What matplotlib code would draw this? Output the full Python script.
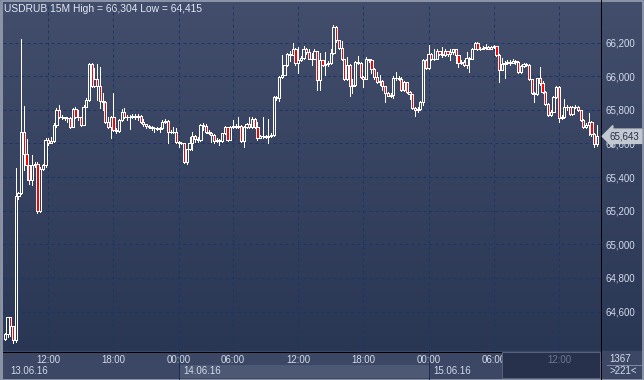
import numpy as np
import matplotlib
matplotlib.use("Agg")
import matplotlib.pyplot as plt
from matplotlib.patches import Rectangle
from matplotlib.colors import LinearSegmentedColormap

TITLE = "USDRUB 15M High = 66,304 Low = 64,415"

# 15 minute candles, open of each bar = previous close
first_open = 64.435
close = [
    64.468, 64.565, 64.515, 64.432, 65.285, 65.305, 65.670, 65.540, 65.470, 65.380,
    65.470, 65.480, 65.200, 65.450, 65.470, 65.620, 65.600, 65.615, 65.710, 65.800,
    65.760, 65.755, 65.750, 65.752, 65.700, 65.805, 65.760, 65.758, 65.710, 65.820,
    65.860, 66.075, 65.940, 65.985,
    65.940, 65.850, 65.845, 65.730, 65.700, 65.755, 65.680, 65.675, 65.740, 65.790,
    65.755, 65.760, 65.758, 65.765, 65.760, 65.765, 65.725, 65.715, 65.705, 65.700,
    65.690, 65.692, 65.688, 65.690, 65.730, 65.735, 65.670, 65.668, 65.670, 65.610,
    65.605, 65.602, 65.488, 65.565, 65.600, 65.645, 65.625, 65.620, 65.710, 65.705,
    65.670, 65.665, 65.650, 65.617, 65.620, 65.615, 65.660, 65.696, 65.622, 65.700,
    65.702, 65.696, 65.705, 65.615, 65.700, 65.715, 65.700, 65.745, 65.700, 65.635,
    65.643, 65.645, 65.640, 65.642, 65.650, 65.875,
    65.870, 65.995, 66.010, 66.065, 66.135, 66.125, 66.165, 66.077, 66.095, 66.110,
    66.165, 66.145, 66.105, 66.100, 66.150, 65.978, 66.095, 66.070, 66.075, 66.080,
    66.140, 66.295, 66.215, 66.167, 66.100, 65.982, 66.070, 65.943, 65.950, 66.085,
    66.080, 65.998, 65.985, 66.100, 66.095, 66.045, 65.993, 65.968, 65.970, 65.945,
    65.900, 65.885, 65.888, 65.990, 65.988, 65.985, 65.920,
    65.965, 65.905, 65.895, 65.810, 65.802, 65.805, 65.845, 66.095, 66.050, 66.135,
    66.100, 66.105, 66.150, 66.135, 66.125, 66.150, 66.130, 66.145, 66.160, 66.125,
    66.080, 66.085, 66.070, 66.107, 66.100, 66.165, 66.198, 66.160, 66.165, 66.170,
    66.172, 66.165, 66.172, 66.178, 66.127, 66.040, 66.075, 66.080, 66.085, 66.080,
    66.090, 66.085, 66.027, 66.060, 66.075, 66.070, 65.982, 65.903, 65.895, 65.988,
    65.960, 65.905, 65.835, 65.770, 65.790, 65.875, 65.935, 65.750, 65.755, 65.820,
    65.818, 65.775, 65.815, 65.820, 65.800, 65.742, 65.700, 65.710, 65.730, 65.655,
    65.595, 65.643,
]
high = [
    64.472, 64.570, 64.570, 64.515, 65.455, 65.310, 66.220, 65.825, 65.625, 65.470,
    65.530, 65.490, 65.490, 65.460, 65.480, 65.630, 65.630, 65.640, 65.720, 65.810,
    65.830, 65.770, 65.760, 65.760, 65.755, 65.810, 65.815, 65.800, 65.760, 65.830,
    65.870, 66.080, 66.080, 66.050,
    66.073, 66.055, 65.900, 65.850, 65.760, 65.765, 65.900, 65.690, 65.745, 65.805,
    65.810, 65.770, 65.770, 65.775, 65.775, 65.775, 65.770, 65.745, 65.715, 65.712,
    65.705, 65.700, 65.700, 65.700, 65.740, 65.745, 65.740, 65.680, 65.700, 65.690,
    65.615, 65.610, 65.605, 65.570, 65.640, 65.670, 65.650, 65.640, 65.715, 65.720,
    65.715, 65.680, 65.670, 65.655, 65.630, 65.625, 65.665, 65.705, 65.700, 65.705,
    65.740, 65.715, 65.758, 65.710, 65.705, 65.720, 65.760, 65.760, 65.750, 65.730,
    65.650, 65.760, 65.650, 65.745, 65.660, 65.880,
    65.880, 66.000, 66.125, 66.070, 66.140, 66.150, 66.200, 66.170, 66.175, 66.120,
    66.180, 66.170, 66.160, 66.140, 66.160, 66.150, 66.140, 66.095, 66.145, 66.090,
    66.160, 66.304, 66.300, 66.215, 66.210, 66.100, 66.117, 66.075, 65.985, 66.090,
    66.120, 66.085, 66.000, 66.115, 66.105, 66.100, 66.050, 66.027, 66.008, 65.975,
    65.940, 65.905, 65.900, 66.000, 66.027, 66.000, 65.995,
    65.970, 65.965, 65.910, 65.895, 65.815, 65.820, 65.850, 66.100, 66.105, 66.185,
    66.140, 66.160, 66.165, 66.150, 66.176, 66.165, 66.150, 66.160, 66.165, 66.165,
    66.125, 66.095, 66.095, 66.146, 66.115, 66.170, 66.205, 66.205, 66.175, 66.180,
    66.190, 66.180, 66.180, 66.185, 66.180, 66.130, 66.107, 66.090, 66.095, 66.095,
    66.100, 66.095, 66.090, 66.070, 66.080, 66.080, 66.075, 65.985, 65.905, 65.990,
    66.057, 65.970, 65.910, 65.840, 65.800, 65.880, 65.940, 65.940, 65.770, 65.865,
    65.830, 65.825, 65.825, 65.830, 65.825, 65.800, 65.745, 65.720, 65.783, 65.735,
    65.660, 65.710,
]
low = [
    64.430, 64.450, 64.455, 64.415, 64.420, 65.270, 65.300, 65.440, 65.380, 65.360,
    65.350, 65.460, 65.185, 65.195, 65.440, 65.460, 65.590, 65.600, 65.610, 65.700,
    65.750, 65.745, 65.740, 65.730, 65.695, 65.700, 65.750, 65.740, 65.705, 65.708,
    65.820, 65.855, 65.935, 65.935,
    65.859, 65.810, 65.800, 65.720, 65.690, 65.635, 65.675, 65.660, 65.670, 65.735,
    65.750, 65.740, 65.685, 65.750, 65.745, 65.740, 65.720, 65.705, 65.695, 65.690,
    65.680, 65.670, 65.680, 65.670, 65.685, 65.720, 65.605, 65.660, 65.660, 65.605,
    65.580, 65.595, 65.482, 65.480, 65.560, 65.560, 65.610, 65.610, 65.615, 65.680,
    65.660, 65.655, 65.610, 65.600, 65.610, 65.590, 65.610, 65.655, 65.615, 65.620,
    65.695, 65.690, 65.695, 65.610, 65.581, 65.695, 65.690, 65.690, 65.695, 65.621,
    65.635, 65.635, 65.630, 65.601, 65.640, 65.645,
    65.860, 65.855, 65.990, 66.005, 66.060, 66.090, 66.130, 66.070, 66.020, 66.090,
    66.105, 66.135, 66.100, 66.065, 66.100, 65.918, 65.920, 66.060, 66.010, 66.060,
    66.075, 66.135, 66.205, 66.160, 66.095, 65.975, 65.975, 65.885, 65.899, 65.945,
    66.075, 65.990, 65.938, 65.985, 66.085, 66.018, 65.985, 65.960, 65.948, 65.918,
    65.849, 65.880, 65.875, 65.869, 65.980, 65.975, 65.910,
    65.915, 65.900, 65.865, 65.805, 65.765, 65.790, 65.800, 65.830, 66.045, 66.045,
    66.095, 66.095, 66.100, 66.125, 66.115, 66.120, 66.120, 66.097, 66.130, 66.077,
    66.057, 66.075, 66.060, 66.048, 66.027, 66.100, 66.160, 66.155, 66.155, 66.160,
    66.165, 66.160, 66.165, 66.170, 66.120, 65.965, 66.035, 65.990, 66.075, 66.070,
    66.080, 66.075, 66.020, 66.020, 66.055, 66.060, 65.975, 65.895, 65.849, 65.890,
    65.950, 65.900, 65.830, 65.765, 65.765, 65.800, 65.870, 65.730, 65.745, 65.750,
    65.800, 65.770, 65.770, 65.810, 65.795, 65.735, 65.695, 65.690, 65.650, 65.645,
    65.580, 65.585,
]

price_levels = [64.6, 64.8, 65.0, 65.2, 65.4, 65.6, 65.8, 66.0, 66.2]
tick_bars = [16, 40, 64, 84, 108, 132, 156, 180, 204]
tick_labels = ["12:00", "18:00", "00:00", "06:00", "12:00", "18:00", "00:00", "06:00", "12:00"]
day_bars = [0, 64, 156]
day_labels = ["13.06.16", "14.06.16", "15.06.16"]
bars_total = "1367"
bars_shown = ">221<"

FONT = "Liberation Sans"
TXT = "#d3dbea"
W, H = 644, 380
PX = 0.72  # one pixel in points

fig = plt.figure(figsize=(W / 100, H / 100), dpi=100)

# background layer in pixel coordinates
bg = fig.add_axes([0, 0, 1, 1])
grad = np.linspace(0, 1, 256).reshape(-1, 1)
cmap = LinearSegmentedColormap.from_list("panel", ["#424e6c", "#2a3754"])
bg.imshow(grad, cmap=cmap, extent=[0, W, 351, 0], aspect="auto")
bg.add_patch(Rectangle((0, 351), W, H - 351, color="#3b4764"))
bg.set_xlim(0, W)
bg.set_ylim(H, 0)
bg.axis("off")
bg.plot([601.5, 601.5], [0, H], color="black", lw=PX)
bg.plot([3, 601.5], [351.5, 351.5], color="black", lw=PX)
bg.plot([607, 641], [365, 365], color="#7d889e", lw=PX)
bg.add_patch(Rectangle((0.5, 0.5), W - 1, H - 1, fill=False, ec="#a3abb9", lw=1.5 * PX))
bg.add_patch(Rectangle((1.2, 1.2), 1.8, H - 2.4, color="#8a93a6", lw=0))
bg.text(4, 8.5, TITLE, family=FONT, size=7.4, color="#e2e8f3", ha="left", va="center")
bg.text(620, 359.5, bars_total, family=FONT, size=7, color=TXT, ha="center", va="center")
bg.text(623, 371.5, bars_shown, family=FONT, size=7, color=TXT, ha="center", va="center")

# price axes: bar i sits at x = 4.84 + 2.716 * i pixels
ax = fig.add_axes([3 / W, 29 / H, 598 / W, 348 / H])
ax.patch.set_alpha(0)
ax.set_xlim(-0.677, 219.5)
ax.set_ylim(64.365, 66.436)
for s in ax.spines.values():
    s.set_visible(False)

ax.set_yticks(price_levels)
ax.set_yticklabels([f"{v:.3f}".replace(".", ",") for v in price_levels])
ax.yaxis.tick_right()
ax.tick_params(axis="y", length=0, pad=3.6, labelsize=7, labelcolor=TXT)
ax.set_xticks(tick_bars)
ax.set_xticklabels(tick_labels)
ax.tick_params(axis="x", length=0, pad=2.8, labelsize=6.9, labelcolor=TXT)
for lab in ax.get_xticklabels() + ax.get_yticklabels():
    lab.set_family(FONT)
ax.grid(True, color="#1b3666", lw=PX, ls=(0, (3, 3)))

# date row
xt = ax.get_xaxis_transform()
ax.add_patch(Rectangle((day_bars[1], -0.0776), day_bars[2] - day_bars[1], 0.0374,
                       transform=xt, clip_on=False, fc="#4c5874", ec="none", zorder=0.5))
for b in day_bars[1:]:
    ax.plot([b, b], [0, -0.083], transform=xt, clip_on=False, color="#1c2f55", lw=PX, zorder=0.6)
for b, lab in zip(day_bars, day_labels):
    ax.annotate(lab, xy=(b, 0), xycoords=xt, xytext=(3.6, -14.6), textcoords="offset points",
                ha="left", va="center", family=FONT, size=7, color=TXT)

# navigator window over the last part of the time axis
ax.add_patch(Rectangle((183.0, -0.0776), 219.1 - 183.0, 0.0747, transform=xt, clip_on=False,
                       fc="#27314c", ec="#56617b", lw=PX, zorder=3))
ax.annotate(tick_labels[-1], xy=(tick_bars[-1], 0), xycoords=xt, xytext=(0, -6.2),
            textcoords="offset points", ha="center", va="center", family=FONT, size=6.9,
            color="#6f7891", zorder=4)

# candles
opens = np.array([first_open] + close[:-1])
c = np.array(close)
h = np.maximum(np.array(high), np.maximum(opens, c))
l = np.minimum(np.array(low), np.minimum(opens, c))
idx = np.arange(len(c))
top = np.maximum(opens, c)
bot = np.minimum(opens, c)
ax.vlines(idx, top, h, color="white", lw=PX, antialiased=False, zorder=2)
ax.vlines(idx, l, bot, color="white", lw=PX, antialiased=False, zorder=2)
bw = 0.82
for i in idx:
    down = c[i] < opens[i]
    ax.add_patch(Rectangle((i - bw / 2, bot[i]), bw, top[i] - bot[i],
                           fc="#ff0000" if down else "none", ec="white", lw=PX,
                           antialiased=False, zorder=2.2))

# last price marker
last = f"{close[-1]:.3f}".replace(".", ",")
ax.annotate(last, xy=(1, close[-1]), xycoords=("axes fraction", "data"), xytext=(6.4, 0),
            textcoords="offset points", ha="left", va="center", family=FONT, size=7,
            color="#26304a", annotation_clip=False, zorder=5,
            bbox=dict(boxstyle="larrow,pad=0.22", fc="#c3c8d1", ec="#c3c8d1"))

fig.savefig("out.png", dpi=100)
